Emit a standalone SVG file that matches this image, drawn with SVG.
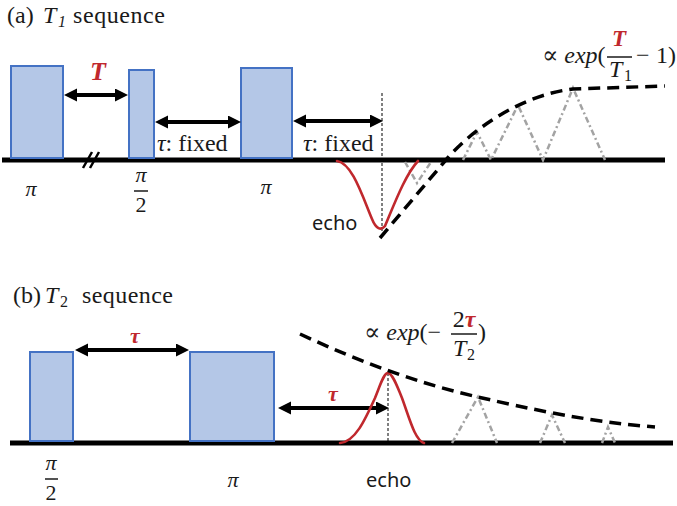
<svg xmlns="http://www.w3.org/2000/svg" width="677" height="506" viewBox="0 0 677 506">
<style>
.pulse{fill:#b4c7e7;stroke:#4472c4;stroke-width:2}
.base{stroke:#000;stroke-width:5;fill:none}
.arr{stroke:#000;stroke-width:4;fill:none;marker-start:url(#ah);marker-end:url(#ah)}
.env{fill:none;stroke:#000;stroke-width:3.5;stroke-dasharray:12 7}
.echo{fill:none;stroke:#c0282d;stroke-width:2.6;stroke-linejoin:round;stroke-linecap:round}
.ghost{fill:none;stroke:#a3a3a3;stroke-width:2.5;stroke-dasharray:6 3 2 3}
.vl{stroke:#000;stroke-width:1;stroke-dasharray:3 2;fill:none}
text{font-family:'Liberation Serif','Times New Roman','DejaVu Serif',serif;fill:#1a1a1a}
.it{font-style:italic}
.red{fill:#c0282d;font-weight:bold;font-style:italic}
text.sans{font-family:'Noto Sans','Liberation Sans',sans-serif}
.bar{stroke:#1a1a1a;stroke-width:1.5}
</style>
<defs>
<marker id="ah" markerUnits="userSpaceOnUse" markerWidth="14" markerHeight="14" viewBox="0 0 14 14" refX="7" refY="6.5" orient="auto-start-reverse">
<path d="M0,0 L13,6.5 L0,13 z" fill="#000"/>
</marker>
</defs>

<!-- (a) T1 sequence -->
<g id="title-a" font-size="24">
<text x="7" y="23">(a)</text>
<text x="43" y="23" class="it">T</text>
<text x="58" y="27" class="it" font-size="16">1</text>
<text x="73" y="23" textLength="92" lengthAdjust="spacing">sequence</text>
</g>

<g id="axis-a">
<line class="base" x1="2" y1="160" x2="665" y2="160"/>
<path d="M83,168 L92,152 M90,168 L99,152" stroke="#000" stroke-width="2.5" fill="none"/>
</g>

<g id="pulse-a1"><rect class="pulse" x="11" y="66" width="52" height="92"/>
<text class="it" x="31" y="196" font-size="22" text-anchor="middle">π</text></g>
<g id="pulse-a2"><rect class="pulse" x="129" y="70" width="25" height="88"/>
<text class="it" x="141" y="182" font-size="22" text-anchor="middle">π</text>
<line class="bar" x1="134" y1="191" x2="148" y2="191"/>
<text x="141" y="212" font-size="22" text-anchor="middle">2</text></g>
<g id="pulse-a3"><rect class="pulse" x="241" y="68" width="51" height="90"/>
<text class="it" x="266" y="194" font-size="22" text-anchor="middle">π</text></g>

<g id="connectors-a">
<line class="arr" x1="70" y1="95" x2="122" y2="95"/>
<line class="arr" x1="161" y1="122" x2="235" y2="122"/>
<line class="arr" x1="299" y1="121" x2="377" y2="121"/>
<line class="vl" x1="382" y1="93" x2="382" y2="232"/>
</g>
<text class="red" x="98" y="80" font-size="26" text-anchor="middle">T</text>
<text x="157" y="151" font-size="24"><tspan class="it">τ</tspan>: fixed</text>
<text x="303" y="151" font-size="24"><tspan class="it">τ</tspan>: fixed</text>

<g id="signal-a">
<path class="ghost" d="M405,162 L417,183 L431,162"/>
<path class="ghost" d="M463,160 L477,132 L491,160 L518,105 L543,160 L573,88 L605,160"/>
<path class="echo" d="M337,161 C352,163 362,195 372,219 C376,229 381,231 385,226 C394,205 405,175 418,161"/>
<path class="env" d="M380,238 L445,161 C470,131 520,95 573,89 L665,86"/>
</g>
<text class="sans" x="312" y="230" font-size="20">echo</text>

<g id="formula-a" font-size="24">
<text x="542" y="63">∝ <tspan class="it">exp</tspan>(</text>
<text class="red" x="619" y="46" font-size="23" text-anchor="middle">T</text>
<line class="bar" x1="607" y1="57" x2="632" y2="57"/>
<text x="609" y="77" class="it">T</text>
<text x="624" y="81" font-size="16">1</text>
<text x="636" y="63">−</text>
<text x="656" y="63">1)</text>
</g>

<!-- (b) T2 sequence -->
<g id="title-b" font-size="24">
<text x="13" y="303">(b)</text>
<text x="45" y="303" class="it">T</text>
<text x="60" y="307" font-size="16">2</text>
<text x="82" y="303" textLength="91" lengthAdjust="spacing">sequence</text>
</g>

<g id="axis-b"><line class="base" x1="10" y1="443" x2="673" y2="443"/></g>

<g id="pulse-b1"><rect class="pulse" x="30" y="352" width="43" height="89"/>
<text class="it" x="51" y="470" font-size="22" text-anchor="middle">π</text>
<line class="bar" x1="45" y1="479" x2="58" y2="479"/>
<text x="51" y="500" font-size="22" text-anchor="middle">2</text></g>
<g id="pulse-b2"><rect class="pulse" x="190" y="352" width="84" height="89"/>
<text class="it" x="233" y="487" font-size="22" text-anchor="middle">π</text></g>

<g id="connectors-b">
<line class="arr" x1="81" y1="350" x2="183" y2="350"/>
<line class="arr" x1="284" y1="408" x2="383" y2="408"/>
<line class="vl" x1="388" y1="373" x2="388" y2="443"/>
</g>
<text class="red" x="135" y="343" font-size="22" text-anchor="middle">τ</text>
<text class="red" x="333" y="401" font-size="22" text-anchor="middle">τ</text>

<g id="signal-b">
<path class="ghost" d="M452,443 L478,397 L497,443"/>
<path class="ghost" d="M540,443 L552,415 L565,443"/>
<path class="ghost" d="M602,443 L608,427 L615,443"/>
<path class="echo" d="M340,443 C355,442 365,420 375,398 C381,383 384,373 388,373 C392,373 396,383 402,398 C410,420 415,440 424,443"/>
<path class="env" d="M300,334 C360,362 420,384 478,397 C530,409 590,422 655,427"/>
</g>
<text class="sans" x="366" y="487" font-size="20">echo</text>

<g id="formula-b" font-size="24">
<text x="364" y="340">∝ <tspan class="it">exp</tspan>(−</text>
<text x="464" y="327" text-anchor="middle">2<tspan class="red">τ</tspan></text>
<line class="bar" x1="451" y1="334" x2="477" y2="334"/>
<text x="453" y="356" class="it">T</text>
<text x="467" y="360" font-size="16">2</text>
<text x="478" y="340">)</text>
</g>
</svg>
